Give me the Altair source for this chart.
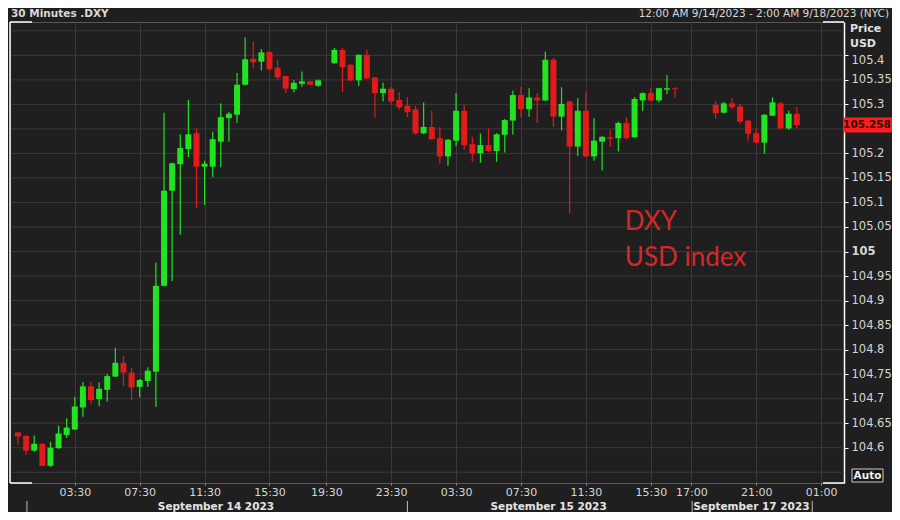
import json
import altair as alt
import pandas as pd

# ---------------- data ----------------
slots = list(range(0, 38)) + list(range(39, 82)) + list(range(86, 97))
opens = [104.631, 104.624, 104.594, 104.608, 104.563, 104.599, 104.626, 104.637, 104.682, 104.725,
         104.699, 104.718, 104.745, 104.773, 104.753, 104.724, 104.736, 104.755, 104.930, 105.124,
         105.178, 105.209, 105.241, 105.173, 105.173, 105.224, 105.272, 105.279, 105.340, 105.393,
         105.387, 105.407, 105.375, 105.358, 105.331, 105.342, 105.347, 105.338,
         105.384, 105.411, 105.381, 105.349, 105.401, 105.355, 105.323, 105.332, 105.309, 105.297,
         105.290, 105.241, 105.254, 105.231, 105.194, 105.226, 105.287, 105.219, 105.200, 105.217,
         105.205, 105.238, 105.267, 105.319, 105.290, 105.314, 105.308, 105.391, 105.275, 105.306,
         105.214, 105.287, 105.194, 105.224, 105.233, 105.231, 105.262, 105.233, 105.308, 105.323,
         105.308, 105.330, 105.333,
         105.299, 105.283, 105.302, 105.296, 105.267, 105.241, 105.222, 105.277, 105.302, 105.251,
         105.281]
highs = [104.632, 104.626, 104.625, 104.609, 104.612, 104.645, 104.660, 104.704, 104.734, 104.734,
         104.733, 104.751, 104.804, 104.787, 104.763, 104.740, 104.764, 104.977, 105.283, 105.181,
         105.239, 105.309, 105.251, 105.185, 105.244, 105.302, 105.285, 105.364, 105.437, 105.428,
         105.413, 105.409, 105.391, 105.358, 105.349, 105.367, 105.347, 105.351,
         105.415, 105.415, 105.381, 105.402, 105.411, 105.355, 105.344, 105.335, 105.325, 105.315,
         105.297, 105.304, 105.287, 105.254, 105.229, 105.323, 105.299, 105.234, 105.241, 105.251,
         105.241, 105.270, 105.328, 105.336, 105.333, 105.323, 105.408, 105.395, 105.335, 105.306,
         105.313, 105.326, 105.272, 105.235, 105.249, 105.265, 105.274, 105.315, 105.324, 105.333,
         105.334, 105.360, 105.335,
         105.307, 105.305, 105.313, 105.301, 105.267, 105.251, 105.280, 105.314, 105.305, 105.287,
         105.294]
lows = [104.606, 104.585, 104.591, 104.562, 104.561, 104.598, 104.620, 104.636, 104.663, 104.689,
        104.685, 104.694, 104.744, 104.726, 104.697, 104.703, 104.724, 104.683, 104.929, 104.940,
        105.034, 105.192, 105.088, 105.095, 105.152, 105.172, 105.224, 105.262, 105.339, 105.374,
        105.369, 105.370, 105.350, 105.323, 105.325, 105.336, 105.340, 105.336,
        105.383, 105.326, 105.347, 105.338, 105.352, 105.274, 105.306, 105.302, 105.289, 105.274,
        105.238, 105.239, 105.228, 105.179, 105.175, 105.215, 105.207, 105.183, 105.181, 105.202,
        105.183, 105.202, 105.238, 105.274, 105.275, 105.262, 105.307, 105.254, 105.247, 105.078,
        105.195, 105.193, 105.185, 105.165, 105.213, 105.204, 105.228, 105.232, 105.287, 105.306,
        105.304, 105.321, 105.313,
        105.270, 105.282, 105.290, 105.260, 105.226, 105.221, 105.200, 105.276, 105.250, 105.248,
        105.251]
closes = [104.623, 104.594, 104.608, 104.563, 104.600, 104.629, 104.641, 104.684, 104.725, 104.697,
          104.720, 104.746, 104.773, 104.753, 104.723, 104.738, 104.757, 104.930, 105.124, 105.180,
          105.211, 105.239, 105.173, 105.179, 105.229, 105.274, 105.281, 105.340, 105.392, 105.386,
          105.406, 105.372, 105.355, 105.332, 105.344, 105.347, 105.340, 105.349,
          105.411, 105.376, 105.349, 105.401, 105.353, 105.323, 105.332, 105.306, 105.294, 105.284,
          105.241, 105.254, 105.229, 105.194, 105.228, 105.287, 105.217, 105.200, 105.217, 105.205,
          105.239, 105.268, 105.319, 105.290, 105.314, 105.308, 105.391, 105.275, 105.301, 105.214,
          105.287, 105.194, 105.226, 105.234, 105.230, 105.262, 105.231, 105.311, 105.323, 105.308,
          105.333, 105.333, 105.331,
          105.282, 105.302, 105.294, 105.265, 105.240, 105.222, 105.279, 105.304, 105.251, 105.281,
          105.258]
last_price = 105.258

time_tick_slots = [7, 15, 23, 31, 38, 46, 54, 62, 70, 78, 83, 91, 99]
time_tick_labels = ["03:30", "07:30", "11:30", "15:30", "19:30", "23:30", "03:30",
                    "07:30", "11:30", "15:30", "17:00", "21:00", "01:00"]
day_labels = ["September 14 2023", "September 15 2023", "September 17 2023"]
day_label_slots = [24.4, 65.4, 90.4]
day_sep_slots = [1.1, 48.0, 83.1, 97.9]
price_ticks = [104.6, 104.65, 104.7, 104.75, 104.8, 104.85, 104.9, 104.95, 105.0,
               105.05, 105.1, 105.15, 105.2, 105.25, 105.3, 105.35, 105.4]
grid_prices = [104.55] + price_ticks + [105.45]
ann_labels = ["DXY", "USD index"]
ann_slots = [74.8, 74.8]
ann_prices = [105.060, 104.986]

# ---------------- styling ----------------
W, H = 834, 461
PAD_R = 48
BG = "#1f1f1f"
GRID = "#3a3a3a"
GREEN = "#22e222"
RED = "#e31a1a"
TXT = "#d6d6d6"
FONT = "DejaVu Sans"

df = pd.DataFrame({"slot": slots, "open": opens, "high": highs, "low": lows, "close": closes})
df["dir"] = ["up" if c >= o else "down" for o, c in zip(opens, closes)]

x_scale = alt.Scale(domain=[-0.37, 101.2], nice=False, zero=False)
y_scale = alt.Scale(domain=[104.528, 105.468], nice=False, zero=False)
color = alt.Color("dir:N", scale=alt.Scale(domain=["up", "down"], range=[GREEN, RED]), legend=None)

label_expr = "{}[indexof({}, datum.value)]".format(json.dumps(time_tick_labels), json.dumps(time_tick_slots))
x_axis = alt.Axis(values=time_tick_slots, labelExpr=label_expr, grid=True, gridColor=GRID,
                  domain=False, tickColor="#9a9a9a", tickSize=2, labelPadding=1,
                  labelColor=TXT, labelFont=FONT, labelFontSize=11, labelFlush=False,
                  labelOverlap=False, title=None)
y_axis = alt.Axis(orient="right", values=price_ticks, format=".2~f", grid=False,
                  domainColor="#ffffff", domainWidth=1.5, tickColor="#ffffff", tickSize=4,
                  labelPadding=3, labelColor=TXT, labelFont=FONT, labelFontSize=11.5,
                  labelFontWeight={"condition": {"test": "datum.value == 105", "value": "bold"},
                                   "value": "normal"},
                  labelOffset={"condition": {"test": "datum.value == 105.4", "value": 5.5},
                               "value": 0},
                  labelOpacity={"condition": {"test": "datum.value == 105.25", "value": 0},
                                "value": 1},
                  labelFlush=False, labelOverlap=False, title=None)


def X(field):
    return alt.X(field, scale=x_scale, axis=x_axis)


def Y(field):
    return alt.Y(field, scale=y_scale, axis=y_axis)


grid = alt.Chart(pd.DataFrame({"price": grid_prices})).mark_rule(color=GRID, strokeWidth=1).encode(
    y=Y("price:Q"))

wicks = alt.Chart(df).mark_rule(strokeWidth=1.2).encode(
    x=X("slot:Q"), y=Y("low:Q"), y2="high:Q", color=color)

bodies = alt.Chart(df).mark_bar(size=6).encode(
    x=X("slot:Q"), y=Y("open:Q"), y2="close:Q", color=color)

ann = alt.Chart(pd.DataFrame({"label": ann_labels, "slot": ann_slots, "price": ann_prices})).mark_text(
    align="left", baseline="middle", font="Lato", fontSize=26, color="#d42828").encode(
    x=X("slot:Q"), y=Y("price:Q"), text="label:N")

days = alt.Chart(pd.DataFrame({"label": day_labels, "slot": day_label_slots})).mark_text(
    align="center", baseline="middle", font=FONT, fontSize=10.5, fontWeight="bold", color="#e4e4e4").encode(
    x=X("slot:Q"), y=alt.value(H + 23.5), text="label:N")

seps = alt.Chart(pd.DataFrame({"slot": day_sep_slots})).mark_rule(color="#bdbdbd", strokeWidth=1).encode(
    x=X("slot:Q"), y=alt.value(H + 18), y2=alt.value(H + 34))

price_box = alt.Chart(pd.DataFrame({"p": [last_price]})).mark_rule(color="#ff1c1c", strokeWidth=15).encode(
    x=alt.value(833), x2=alt.value(W + PAD_R), y=Y("p:Q"))
price_txt = alt.Chart(pd.DataFrame({"p": [last_price], "t": ["105.258"]})).mark_text(
    align="center", baseline="middle", font=FONT, fontSize=10.5, fontWeight="bold", color="#2a0404").encode(
    x=alt.value(857), y=Y("p:Q"), text="t:N")


def label(text, x, y, align="left", size=11, weight="normal", col=TXT):
    return alt.Chart(pd.DataFrame({"t": [text]})).mark_text(
        align=align, baseline="middle", font=FONT, fontSize=size, fontWeight=weight, color=col).encode(
        x=alt.value(x), y=alt.value(y), text="t:N")


title = label("30 Minutes .DXY", 1, -8.5, size=10.5, weight="bold", col="#d8d8d8")
range_txt = label("12:00 AM 9/14/2023 - 2:00 AM 9/18/2023 (NYC)", W + PAD_R - 3, -8.5, align="right",
                  size=10.5, col="#d8d8d8")
price_hdr = label("Price", 840, 7, weight="bold", col="#e0e0e0")
usd_hdr = label("USD", 840, 22, weight="bold", col="#e0e0e0")

auto_box = alt.Chart(pd.DataFrame({"a": [1]})).mark_rect(fill="#151515", stroke="#d0d0d0", strokeWidth=1).encode(
    x=alt.value(842), x2=alt.value(873), y=alt.value(447), y2=alt.value(460))
auto_txt = label("Auto", 857.5, 453.5, align="center", size=10.5, weight="bold", col="#f0f0f0")

frame_df = pd.DataFrame({"a": [1]})
left_line = alt.Chart(frame_df).mark_rule(color="#ffffff", strokeWidth=1.5).encode(
    x=alt.value(0), y=alt.value(0), y2=alt.value(H))
corners = [
    alt.Chart(frame_df).mark_rule(color="#ffffff", strokeWidth=1.5).encode(
        x=alt.value(x1), x2=alt.value(x2), y=alt.value(yy))
    for (x1, x2, yy) in [(0, 22, 0), (0, 22, H), (813, W, 0), (813, W, H)]
]

chart = alt.layer(
    grid, wicks, bodies, ann, days, seps, price_box, price_txt,
    title, range_txt, price_hdr, usd_hdr, auto_box, auto_txt, left_line, *corners
).properties(
    width=W, height=H,
    background=BG,
    padding={"left": 2, "top": 14, "right": PAD_R, "bottom": 29},
    autosize=alt.AutoSizeParams(type="none"),
).configure_view(
    stroke="#5a5a5a", fill=BG
)

chart.save("out.html", embed_options={"renderer": "svg", "actions": False})
